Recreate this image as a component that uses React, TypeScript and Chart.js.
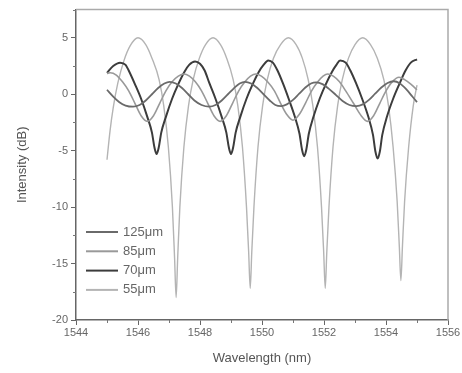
import React, { useEffect, useRef } from "react";
import { Chart, registerables } from "chart.js";

Chart.register(...registerables);

// ---- data ----
const labels = ["125\u03bcm", "85\u03bcm", "70\u03bcm", "55\u03bcm"];
const colors = ["#6a6a6a", "#999999", "#3c3c3c", "#b4b4b4"];
const xTickValues = [1544, 1546, 1548, 1550, 1552, 1554, 1556];
const yTickValues = [-20, -15, -10, -5, 0, 5];

// 125 um (small ripple)
const xD = [1545.0, 1545.2, 1545.4, 1545.6, 1545.84, 1546.05, 1546.25, 1546.45, 1546.65, 1546.85, 1547.02, 1547.22, 1547.42, 1547.62, 1547.82, 1548.05, 1548.3, 1548.5, 1548.7, 1548.9, 1549.1, 1549.28, 1549.45, 1549.65, 1549.85, 1550.05, 1550.25, 1550.43, 1550.62, 1550.8, 1551.0, 1551.2, 1551.4, 1551.58, 1551.75, 1551.95, 1552.15, 1552.38, 1552.6, 1552.82, 1553.05, 1553.25, 1553.45, 1553.65, 1553.85, 1554.05, 1554.25, 1554.45, 1554.65, 1554.85, 1555.0];
const yD = [0.4, -0.2, -0.7, -1.0, -1.1, -0.95, -0.55, 0.0, 0.55, 0.95, 1.1, 0.95, 0.55, 0.0, -0.55, -0.95, -1.1, -0.95, -0.55, 0.0, 0.55, 0.95, 1.1, 0.95, 0.55, 0.0, -0.55, -0.95, -1.05, -0.9, -0.5, 0.05, 0.6, 0.95, 1.05, 0.9, 0.5, -0.05, -0.6, -0.95, -1.05, -0.9, -0.5, 0.05, 0.6, 1.0, 1.15, 0.95, 0.45, -0.2, -0.7];

// 85 um
const xC = [1545.0, 1545.1, 1545.3, 1545.5, 1545.7, 1545.9, 1546.1, 1546.3, 1546.5, 1546.7, 1546.9, 1547.1, 1547.3, 1547.48, 1547.66, 1547.85, 1548.05, 1548.25, 1548.45, 1548.65, 1548.85, 1549.05, 1549.25, 1549.45, 1549.63, 1549.8, 1549.98, 1550.18, 1550.4, 1550.6, 1550.8, 1551.0, 1551.2, 1551.4, 1551.6, 1551.8, 1551.97, 1552.12, 1552.3, 1552.5, 1552.7, 1552.95, 1553.2, 1553.4, 1553.6, 1553.8, 1554.0, 1554.2, 1554.42, 1554.6, 1554.8, 1555.0];
const yC = [1.85, 1.9, 1.7, 1.1, 0.3, -0.8, -1.9, -2.4, -1.9, -0.8, 0.3, 1.1, 1.6, 1.8, 1.6, 1.1, 0.3, -0.8, -1.9, -2.4, -1.9, -0.8, 0.3, 1.1, 1.6, 1.8, 1.6, 1.1, 0.3, -0.8, -1.8, -2.3, -1.8, -0.8, 0.3, 1.1, 1.6, 1.8, 1.6, 1.1, 0.3, -0.8, -1.9, -2.4, -1.9, -0.8, 0.3, 1.1, 1.5, 1.3, 0.9, 0.4];

// 70 um
const xB = [1545.0, 1545.2, 1545.42, 1545.6, 1545.7, 1545.9, 1546.1, 1546.3, 1546.45, 1546.53, 1546.6, 1546.67, 1546.75, 1546.9, 1547.1, 1547.3, 1547.5, 1547.65, 1547.84, 1548.0, 1548.15, 1548.3, 1548.5, 1548.7, 1548.85, 1548.93, 1549.0, 1549.07, 1549.15, 1549.3, 1549.5, 1549.7, 1549.9, 1550.05, 1550.2, 1550.35, 1550.5, 1550.67, 1550.86, 1551.06, 1551.21, 1551.29, 1551.36, 1551.43, 1551.51, 1551.66, 1551.86, 1552.06, 1552.26, 1552.4, 1552.52, 1552.7, 1552.85, 1553.03, 1553.23, 1553.43, 1553.58, 1553.66, 1553.73, 1553.8, 1553.88, 1554.03, 1554.23, 1554.43, 1554.63, 1554.8, 1555.0];
const yB = [1.9, 2.5, 2.8, 2.6, 2.1, 0.9, -0.4, -2.0, -3.4, -4.7, -5.3, -4.7, -3.4, -2.0, -0.4, 0.9, 2.0, 2.6, 2.9, 2.7, 2.1, 1.0, -0.4, -2.0, -3.4, -4.7, -5.3, -4.7, -3.4, -2.0, -0.4, 0.9, 2.0, 2.6, 3.0, 2.8, 2.1, 1.0, -0.4, -2.0, -3.5, -4.9, -5.5, -4.9, -3.5, -2.0, -0.4, 0.9, 2.0, 2.6, 3.0, 2.8, 2.1, 1.0, -0.4, -2.0, -3.6, -5.1, -5.7, -5.1, -3.6, -2.0, -0.4, 0.9, 2.1, 2.8, 3.1];

// 55 um (deep notches)
const xA = [1545.0, 1545.1, 1545.2, 1545.35, 1545.55, 1545.75, 1546.0, 1546.25, 1546.45, 1546.68, 1546.83, 1546.98, 1547.11, 1547.18, 1547.23, 1547.28, 1547.35, 1547.48, 1547.63, 1547.78, 1547.98, 1548.18, 1548.42, 1548.66, 1548.86, 1549.07, 1549.22, 1549.37, 1549.5, 1549.57, 1549.62, 1549.67, 1549.74, 1549.87, 1550.02, 1550.17, 1550.37, 1550.6, 1550.85, 1551.1, 1551.3, 1551.49, 1551.64, 1551.79, 1551.92, 1551.99, 1552.04, 1552.09, 1552.16, 1552.29, 1552.44, 1552.59, 1552.79, 1553.0, 1553.25, 1553.5, 1553.72, 1553.93, 1554.08, 1554.23, 1554.36, 1554.43, 1554.48, 1554.53, 1554.6, 1554.73, 1554.88, 1555.0];
const yA = [-5.8, -3.2, -1.2, 1.0, 3.0, 4.3, 5.0, 4.4, 3.2, 1.3, -1.0, -4.7, -10, -14.5, -18.0, -14.5, -10, -4.7, -1.0, 1.3, 3.2, 4.4, 5.0, 4.4, 3.2, 1.3, -1.0, -4.7, -10, -14, -17.2, -14, -10, -4.7, -1.0, 1.3, 3.2, 4.4, 5.0, 4.4, 3.2, 1.3, -1.0, -4.7, -10, -14, -17.2, -14, -10, -4.7, -1.0, 1.3, 3.2, 4.4, 5.0, 4.4, 3.2, 1.3, -1.0, -4.7, -9.5, -13.5, -16.5, -13.5, -9.5, -4.7, -1.0, 0.8];

const seriesX = [xD, xC, xB, xA];
const seriesY = [yD, yC, yB, yA];
const widths = [1.8, 1.6, 2.0, 1.4];

const FONT = "'Liberation Sans', Arial, sans-serif";

const framePlugin = {
  id: "frame",
  afterDraw(chart: any) {
    const { ctx, chartArea } = chart;
    const { left, right, top, bottom } = chartArea;
    ctx.save();
    // top & right frame
    ctx.strokeStyle = "#aaaaaa";
    ctx.lineWidth = 1.5;
    ctx.beginPath();
    ctx.moveTo(left, top);
    ctx.lineTo(right, top);
    ctx.lineTo(right, bottom);
    ctx.stroke();
    // minor ticks
    ctx.strokeStyle = "#777777";
    ctx.lineWidth = 1;
    const xs = chart.scales.x;
    const ys = chart.scales.y;
    for (let v = 1545; v < 1556; v += 2) {
      const px = Math.round(xs.getPixelForValue(v)) + 0.5;
      ctx.beginPath();
      ctx.moveTo(px, bottom);
      ctx.lineTo(px, bottom + 3);
      ctx.stroke();
    }
    for (let v = -17.5; v < 7.6; v += 5) {
      const py = Math.round(ys.getPixelForValue(v)) + 0.5;
      ctx.beginPath();
      ctx.moveTo(left, py);
      ctx.lineTo(left - 3, py);
      ctx.stroke();
    }
    // legend
    const ds = chart.data.datasets;
    const lx = left + 10;
    const ly0 = bottom - 88;
    ctx.font = "13px " + FONT;
    ctx.textBaseline = "middle";
    ds.forEach((d: any, i: number) => {
      const y = ly0 + i * 19.3;
      ctx.strokeStyle = d.borderColor;
      ctx.lineWidth = 2;
      ctx.beginPath();
      ctx.moveTo(lx, y);
      ctx.lineTo(lx + 32, y);
      ctx.stroke();
      ctx.fillStyle = "#666666";
      ctx.fillText(d.label, lx + 37, y);
    });
    ctx.restore();
  },
};

export default function App() {
  const ref = useRef<HTMLCanvasElement>(null);
  useEffect(() => {
    document.body.style.margin = "0";
    const canvas = ref.current;
    if (!canvas) return;
    const datasets = labels.map((lab, i) => ({
      label: lab,
      data: seriesX[i].map((x, j) => ({ x, y: seriesY[i][j] })),
      borderColor: colors[i],
      borderWidth: widths[i],
      pointRadius: 0,
      fill: false,
      cubicInterpolationMode: "monotone" as const,
    }));
    const chart = new Chart(canvas, {
      type: "line",
      data: { datasets },
      options: {
        animation: false,
        responsive: false,
        devicePixelRatio: 1,
        layout: { padding: { top: 6, right: 14, left: 0, bottom: 0 } },
        plugins: { legend: { display: false }, tooltip: { enabled: false } },
        scales: {
          x: {
            type: "linear",
            min: 1544,
            max: 1556,
            afterFit: (s: any) => {
              s.height = 53;
            },
            afterBuildTicks: (s: any) => {
              s.ticks = xTickValues.map((v) => ({ value: v }));
            },
            border: { display: true, color: "#666666", width: 1.5 },
            grid: { drawOnChartArea: false, drawTicks: true, tickLength: 5, tickColor: "#666666" },
            ticks: {
              padding: 1,
              color: "#666666",
              font: { family: FONT, size: 11 },
              maxRotation: 0,
              autoSkip: false,
              callback: (v: any) => String(v),
            },
            title: {
              display: true,
              text: "Wavelength (nm)",
              color: "#555555",
              font: { family: FONT, size: 13 },
              padding: { top: 0, bottom: 7 },
            },
          },
          y: {
            type: "linear",
            min: -20,
            max: 7.5,
            afterFit: (s: any) => {
              s.width = 76;
            },
            border: { display: true, color: "#666666", width: 1.5 },
            grid: { drawOnChartArea: false, drawTicks: true, tickLength: 5, tickColor: "#666666" },
            afterBuildTicks: (s: any) => {
              s.ticks = yTickValues.map((v) => ({ value: v }));
            },
            ticks: {
              padding: 3,
              color: "#666666",
              font: { family: FONT, size: 11 },
              autoSkip: false,
              callback: (v: any) => String(v),
            },
            title: {
              display: true,
              text: "Intensity (dB)",
              color: "#555555",
              font: { family: FONT, size: 13 },
              padding: { top: 15, bottom: 0 },
            },
          },
        },
      },
      plugins: [framePlugin],
    });
    return () => chart.destroy();
  }, []);
  return (
    <div style={{ width: 462, height: 373, background: "#ffffff" }}>
      <canvas ref={ref} width={462} height={373} style={{ display: "block", width: 462, height: 373 }} />
    </div>
  );
}
